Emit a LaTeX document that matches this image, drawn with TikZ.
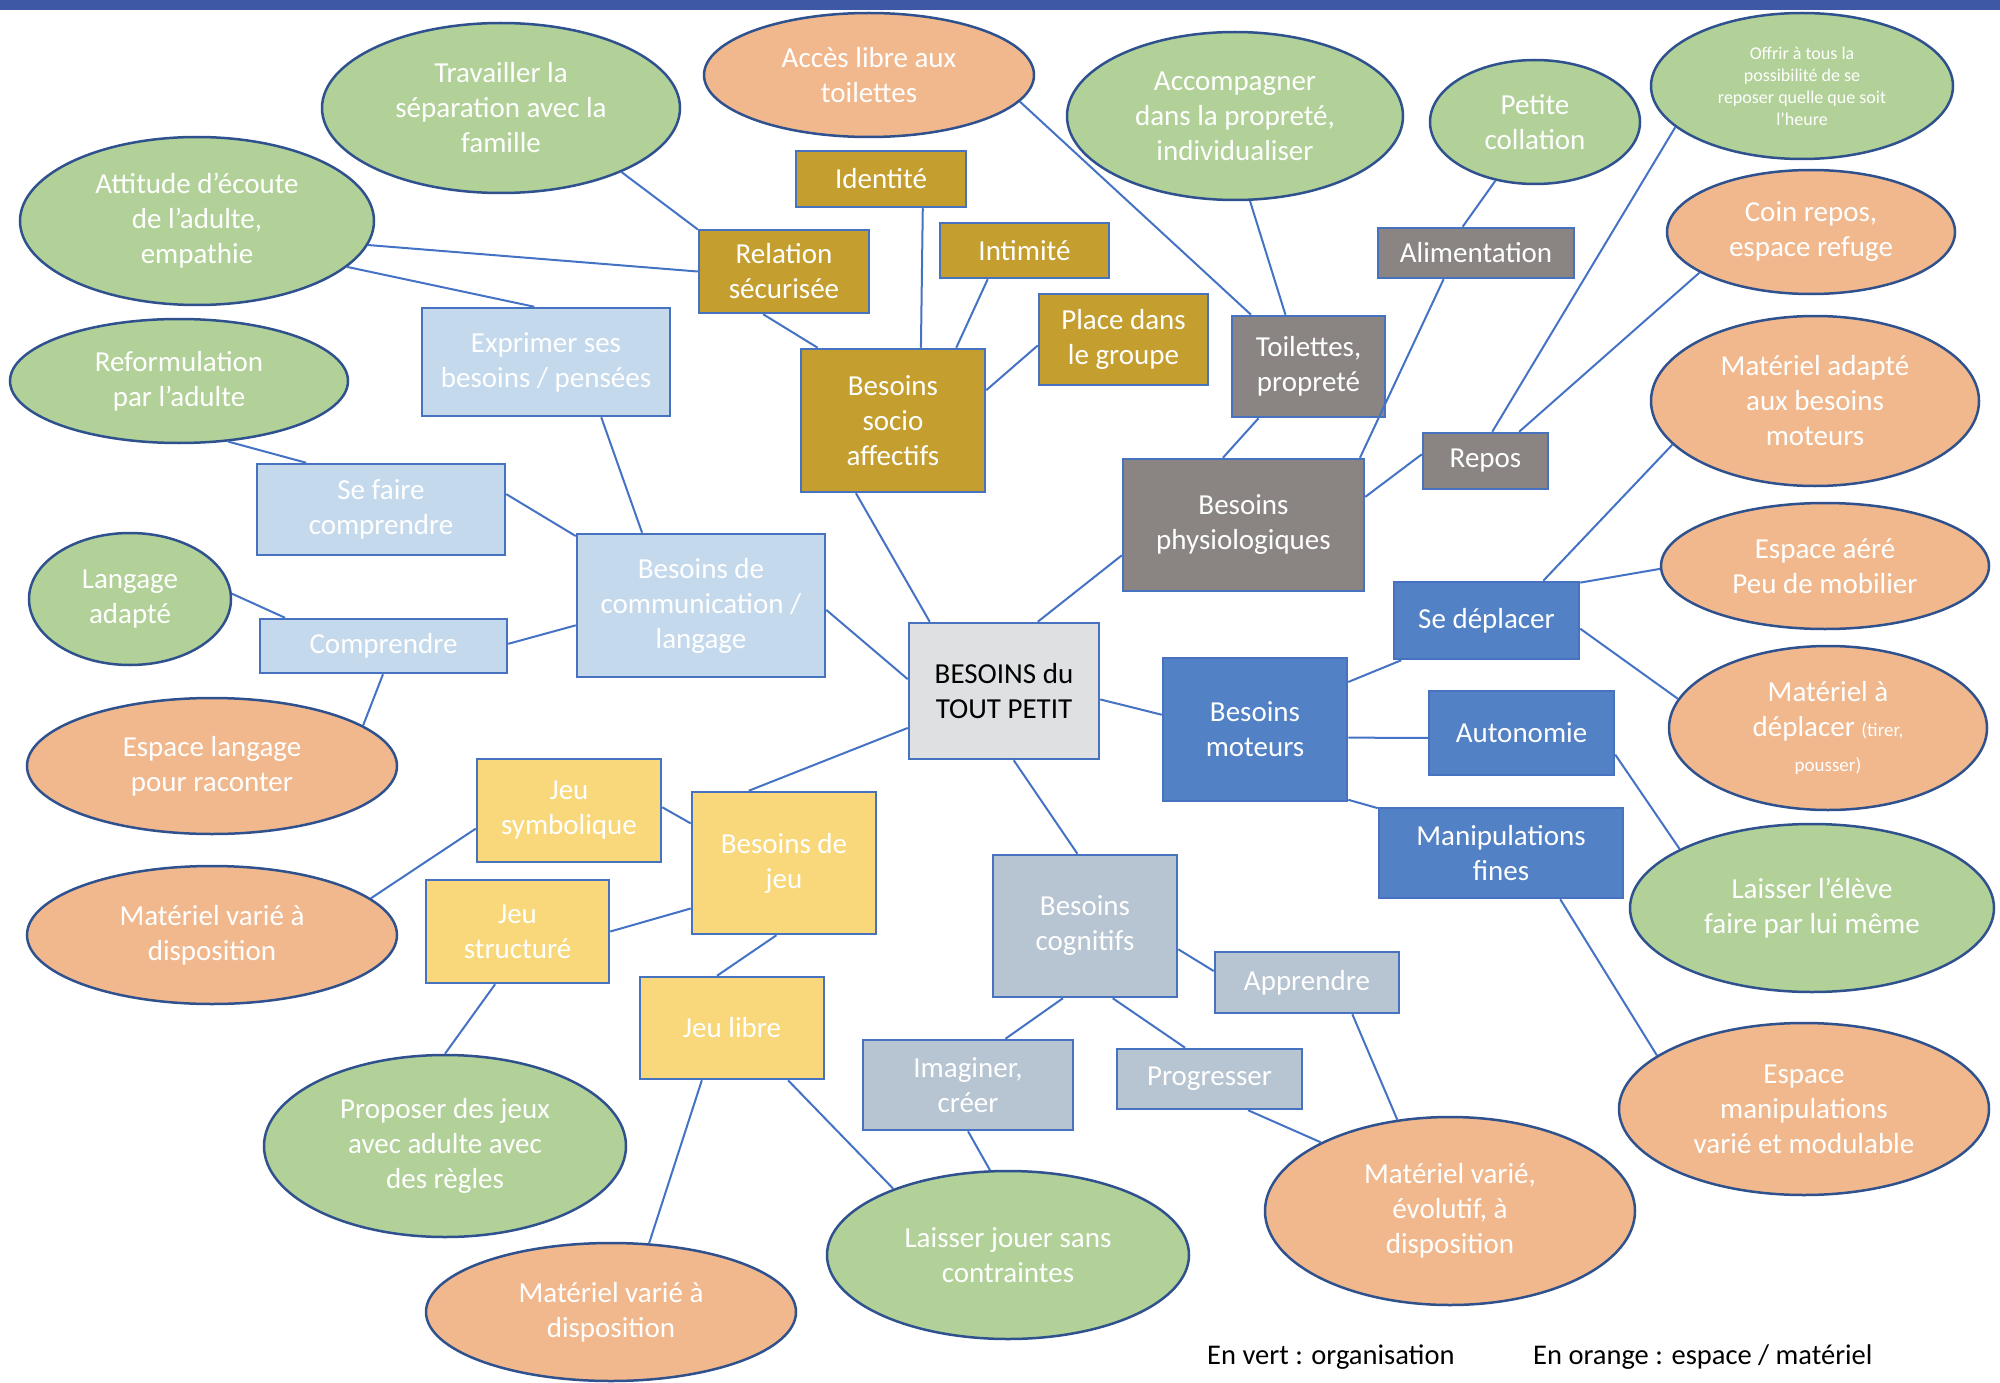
\documentclass[tikz,border=0pt]{standalone}
\usepackage{fontspec}
\setmainfont{Carlito}
\usetikzlibrary{shapes.geometric}
\usepackage{xcolor}

\definecolor{barrehaut}{RGB}{62,88,166}
\definecolor{ovalvert}{RGB}{177,209,152}
\definecolor{ovalorange}{RGB}{241,184,141}
\definecolor{bordoval}{RGB}{47,82,143}
\definecolor{bordbox}{RGB}{70,114,192}
\definecolor{lienbleu}{RGB}{68,114,196}
\definecolor{coulsocio}{RGB}{196,158,46}
\definecolor{coulphysio}{RGB}{138,133,131}
\definecolor{coulcomm}{RGB}{197,217,237}
\definecolor{couljeu}{RGB}{248,216,123}
\definecolor{coulmoteur}{RGB}{82,129,197}
\definecolor{coulcogn}{RGB}{183,196,210}
\definecolor{coulcentre}{RGB}{222,224,225}

\newcommand{\txtnormal}{\fontsize{29}{35}\selectfont}
\newcommand{\txtpetit}{\fontsize{19}{23}\selectfont}
\newcommand{\txtmini}{\fontsize{18}{22}\selectfont}
\newcommand{\txtlegende}{\fontsize{28.5}{33}\selectfont}

\begin{document}
\begin{tikzpicture}[x=1pt, y=-1pt,
		besoin/.style={rectangle, draw=bordbox, line width=2.5pt, text=white, align=center, inner sep=0pt, font=\txtnormal},
		boxsocio/.style={besoin, fill=coulsocio},
		boxphysio/.style={besoin, fill=coulphysio},
		boxcomm/.style={besoin, fill=coulcomm},
		boxjeu/.style={besoin, fill=couljeu},
		boxmoteur/.style={besoin, fill=coulmoteur},
		boxcogn/.style={besoin, fill=coulcogn},
		boxcentre/.style={besoin, fill=coulcentre, text=black},
		oval/.style={ellipse, draw=bordoval, line width=2.5pt, text=white, align=center, inner sep=0pt, font=\txtnormal},
		overt/.style={oval, fill=ovalvert},
		oorange/.style={oval, fill=ovalorange},
		legende/.style={inner sep=0pt, text=black, font=\txtlegende, anchor=base west},
		wh/.style 2 args={minimum width=#1pt, minimum height=#2pt},
		lien/.style={draw=lienbleu, line width=2pt},
		]
		\useasboundingbox (0,0) rectangle (2000,1383);
		\fill[barrehaut] (0,0) rectangle (2000,10);
		
		%Nodes - centre
		\node[boxcentre, wh={190}{136}]  (centre)      at (1004,691)    {BESOINS du\\TOUT PETIT};
		
		%Nodes - socio affectifs
		\node[boxsocio, wh={170}{56}]    (identite)    at (881,179)     {Identité};
		\node[boxsocio, wh={170}{83}]    (relation)    at (784,271.5)   {Relation\\sécurisée};
		\node[boxsocio, wh={169}{55}]    (intimite)    at (1024.5,250.5) {Intimité};
		\node[boxsocio, wh={169}{91}]    (place)       at (1123.5,339.5) {Place dans\\le groupe};
		\node[boxsocio, wh={184}{143}]   (socio)       at (893,420.5)   {Besoins\\socio\\affectifs};
		
		%Nodes - physiologiques
		\node[boxphysio, wh={153}{101}]  (toilettes)   at (1308.5,366.5) {Toilettes,\\propreté};
		\node[boxphysio, wh={196}{50}]   (alim)        at (1476,253)    {Alimentation};
		\node[boxphysio, wh={125}{56}]   (repos)       at (1485.5,461)  {Repos};
		\node[boxphysio, wh={241}{132}]  (physio)      at (1243.5,525)  {Besoins\\physiologiques};
		
		%Nodes - communication
		\node[boxcomm, wh={248}{108}]    (exprimer)    at (546,362)     {Exprimer ses\\besoins / pensées};
		\node[boxcomm, wh={248}{91}]     (sefaire)     at (381,509.5)   {Se faire\\comprendre};
		\node[boxcomm, wh={247}{54}]     (comprendre)  at (383.5,646)   {Comprendre};
		\node[boxcomm, wh={248}{143}]    (comm)        at (701,605.5)   {Besoins de\\communication /\\langage};
		
		%Nodes - moteurs
		\node[boxmoteur, wh={184}{143}]  (moteurs)     at (1255,729.5)  {Besoins\\moteurs};
		\node[boxmoteur, wh={185}{77}]   (deplacer)    at (1486.5,620.5) {Se déplacer};
		\node[boxmoteur, wh={185}{84}]   (autonomie)   at (1521.5,733)  {Autonomie};
		\node[boxmoteur, wh={244}{90}]   (manip)       at (1501,853)    {Manipulations\\fines};
		
		%Nodes - cognitifs
		\node[boxcogn, wh={184}{142}]    (cognitifs)   at (1085,926)    {Besoins\\cognitifs};
		\node[boxcogn, wh={184}{61}]     (apprendre)   at (1307,982.5)  {Apprendre};
		\node[boxcogn, wh={185}{60}]     (progresser)  at (1209.5,1079) {Progresser};
		\node[boxcogn, wh={210}{90}]     (imaginer)    at (968,1085)    {Imaginer,\\créer};
		
		%Nodes - jeu
		\node[boxjeu, wh={184}{103}]     (symbolique)  at (569,810.5)   {Jeu\\symbolique};
		\node[boxjeu, wh={183}{103}]     (structure)   at (517.5,931.5) {Jeu\\structuré};
		\node[boxjeu, wh={184}{142}]     (jeu)         at (784,863)     {Besoins de\\jeu};
		\node[boxjeu, wh={184}{102}]     (libre)       at (732,1028)    {Jeu libre};
		
		%Ovals
		\node[overt, wh={358}{170}]      (travailler)  at (501,108)     {Travailler la\\séparation avec la\\famille};
		\node[overt, wh={354}{168}]      (attitude)    at (197,221)     {Attitude d’écoute\\de l’adulte,\\empathie};
		\node[overt, wh={338}{124}]      (reformulation) at (179,381)   {Reformulation\\par l’adulte};
		\node[oorange, wh={330}{124}]    (acces)       at (869,75)      {Accès libre aux\\toilettes};
		\node[overt, wh={336}{168}]      (accompagner) at (1235,116)    {Accompagner\\dans la propreté,\\individualiser};
		\node[overt, wh={210}{124}]      (collation)   at (1535,122)    {Petite\\collation};
		\node[overt, wh={302}{146}, font=\txtmini] (offrir) at (1802,86) {Offrir à tous la\\possibilité de se\\reposer quelle que soit\\l’heure};
		\node[oorange, wh={288}{124}]    (coin)        at (1811,232)    {Coin repos,\\espace refuge};
		\node[oorange, wh={328}{170}]    (madapte)     at (1815,401)    {Matériel adapté\\aux besoins\\moteurs};
		\node[oorange, wh={328}{126}]    (aere)        at (1825,566)    {Espace aéré\\Peu de mobilier};
		\node[oorange, wh={318}{164}]    (mdeplacer)   at (1828,728)    {Matériel à\\déplacer {\txtpetit (tirer,}\\{\txtpetit pousser)}};
		\node[overt, wh={364}{168}]      (eleve)       at (1812,908)    {Laisser l’élève\\faire par lui même};
		\node[oorange, wh={370}{172}]    (espmanip)    at (1804,1109)   {Espace\\manipulations\\varié et modulable};
		\node[oorange, wh={370}{188}]    (mevolutif)   at (1450,1211)   {Matériel varié,\\évolutif, à\\disposition};
		\node[overt, wh={362}{168}]      (jouer)       at (1008,1255)   {Laisser jouer sans\\contraintes};
		\node[oorange, wh={370}{138}]    (mbas)        at (611,1312)    {Matériel varié à\\disposition};
		\node[overt, wh={362}{182}]      (proposer)    at (445,1146)    {Proposer des jeux\\avec adulte avec\\des règles};
		\node[oorange, wh={370}{138}]    (mgauche)     at (212,935)     {Matériel varié à\\disposition};
		\node[oorange, wh={370}{136}]    (esplangage)  at (212,766)     {Espace langage\\pour raconter};
		\node[overt, wh={202}{132}]      (langage)     at (130,599)     {Langage\\adapté};
		
		%Legend
		\node[legende] (legvert)   at (1207,1364) {En vert : organisation};
		\node[legende] (legorange) at (1533,1364) {En orange : espace / matériel};
		
		%Lines
		\draw[lien] (travailler.-28) -- (relation.154);
		\draw[lien] (attitude.-8) -- (relation.180);
		\draw[lien] (attitude.-17) -- (exprimer.102);
		\draw[lien] (relation.-116) -- (socio.136);
		\draw[lien] (identite.-35) -- (socio.69);
		\draw[lien] (intimite.-142) -- (socio.49);
		\draw[lien] (place.-176) -- (socio.18);
		\draw[lien] (socio.-117) -- (centre.137);
		\draw[lien] (exprimer.-45) -- (comm.129);
		\draw[lien] (sefaire.7) -- (comm.151);
		\draw[lien] (comm.-171) -- (comprendre.1);
		\draw[lien] (reformulation.-51) -- (sefaire.148);
		\draw[lien] (langage.3) -- (comprendre.164);
		\draw[lien] (comprendre.-91) -- (esplangage.15);
		\draw[lien] (comm.-2) -- (centre.173);
		\draw[lien] (centre.-159) -- (jeu.116);
		\draw[lien] (symbolique.2) -- (jeu.157);
		\draw[lien] (structure.0) -- (jeu.-154);
		\draw[lien] (symbolique.-169) -- (mgauche.13);
		\draw[lien] (structure.-113) -- (proposer.90);
		\draw[lien] (jeu.-96) -- (libre.106);
		\draw[lien] (libre.-120) -- (mbas.61);
		\draw[lien] (libre.-43) -- (jouer.150);
		\draw[lien] (centre.-82) -- (cognitifs.96);
		\draw[lien] (centre.-5) -- (moteurs.171);
		\draw[lien] (centre.64) -- (physio.-166);
		\draw[lien] (physio.107) -- (toilettes.-134);
		\draw[lien] (physio.30) -- (alim.-141);
		\draw[lien] (physio.13) -- (repos.174);
		\draw[lien] (acces.-10) -- (toilettes.138);
		\draw[lien] (accompagner.-80) -- (toilettes.114);
		\draw[lien] (collation.-124) -- (alim.117);
		\draw[lien] (offrir.-162) -- (repos.77);
		\draw[lien] (coin.-160) -- (repos.41);
		\draw[lien] (deplacer.35) -- (madapte.-163);
		\draw[lien] (deplacer.22) -- (aere.-179);
		\draw[lien] (deplacer.-5) -- (mdeplacer.169);
		\draw[lien] (moteurs.27) -- (deplacer.-155);
		\draw[lien] (moteurs.-5) -- (autonomie.-177);
		\draw[lien] (moteurs.-37) -- (manip.160);
		\draw[lien] (autonomie.-13) -- (eleve.156);
		\draw[lien] (manip.-38) -- (espmanip.160);
		\draw[lien] (cognitifs.-14) -- (apprendre.173);
		\draw[lien] (cognitifs.-107) -- (imaginer.51);
		\draw[lien] (cognitifs.-69) -- (progresser.128);
		\draw[lien] (apprendre.-35) -- (mevolutif.120);
		\draw[lien] (progresser.-39) -- (mevolutif.152);
		\draw[lien] (imaginer.-90) -- (jouer.102);
	\end{tikzpicture}
\end{document}
